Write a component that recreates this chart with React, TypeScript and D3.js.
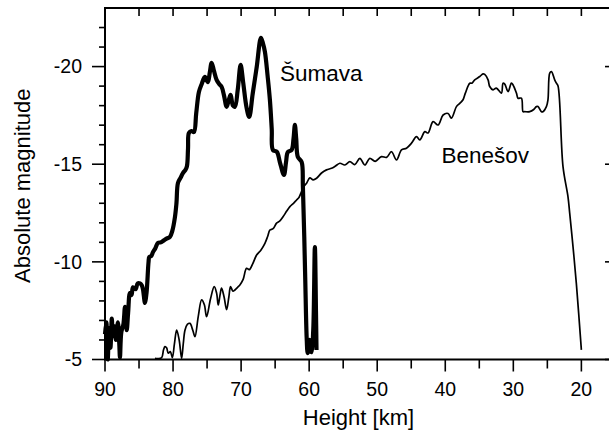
import * as React from 'react';
import * as d3 from 'd3';

const WIDTH = 609;
const HEIGHT = 430;

// Šumava fireball light curve (height km, absolute magnitude)
const sumavaHeight = [
  90.0, 89.8, 89.6, 89.4, 89.2, 89.0, 88.85, 88.6, 88.4, 88.1, 87.9, 87.8, 87.6, 87.3,
  87.06, 86.9, 86.8, 86.6, 86.33, 86.1, 85.89, 85.5, 85.2, 84.86, 84.6, 84.42, 84.2,
  84.13, 83.9, 83.6, 83.49, 83.2, 82.95, 82.6, 82.22, 81.8, 81.34, 80.9, 80.46, 80.1,
  79.72, 79.5, 79.28, 78.9, 78.55, 78.2, 77.96, 77.8, 77.67, 77.3, 76.93, 76.6, 76.2,
  75.8, 75.32, 74.88, 74.6, 74.33, 74.0, 73.6, 73.2, 72.86, 72.5, 72.13, 71.8, 71.54,
  71.2, 70.91, 70.5, 70.07, 69.7, 69.2, 68.81, 68.3, 67.7, 67.09, 66.8, 66.5, 66.1,
  65.77, 65.5, 65.33, 64.74, 64.3, 63.71, 63.4, 63.13, 62.58, 62.3, 62.1, 61.9, 61.66,
  61.11, 60.92, 60.6, 60.37, 60.23, 60.05, 59.9, 59.75, 59.65, 59.4, 59.16, 59.0, 58.92,
];
const sumavaMag = [
  -6.3, -6.9, -5.0, -6.6, -5.6, -7.1, -6.2, -6.7, -6.0, -6.9, -5.8, -5.1, -6.4, -6.8,
  -7.7, -7.0, -6.5, -7.4, -8.4, -8.3, -8.7, -8.6, -8.9, -8.9, -8.8, -8.6, -8.0,
  -7.9, -8.4, -10.0, -10.25, -10.3, -10.5, -10.7, -10.97, -11.0, -11.1, -11.2, -11.28, -11.6,
  -12.3, -13.0, -14.04, -14.3, -14.55, -14.7, -14.9, -15.8, -16.6, -16.7, -16.65, -17.6, -18.7,
  -19.1, -19.47, -19.2, -19.7, -20.19, -19.8, -19.32, -19.1, -18.96, -18.5, -17.94, -18.3, -18.55,
  -18.0, -17.94, -18.8, -20.09, -19.2, -17.9, -17.42, -18.6, -20.0, -21.47, -21.2, -20.75, -19.5,
  -18.3, -16.8, -15.73, -15.63, -15.1, -14.45, -15.1, -15.63, -15.73, -16.3, -17.01, -16.3, -15.37,
  -15.12, -13.84, -9.5, -6.15, -5.33, -5.9, -6.0, -5.4, -5.38, -6.5, -10.76, -7.5, -5.49,
];

// Benešov fireball light curve
const benesovHeight = [
  82.66, 82.2, 81.67, 81.4, 81.19, 80.95, 80.7, 80.4, 80.1, 79.8, 79.47, 79.1, 78.74,
  78.5, 78.25, 77.9, 77.52, 77.1, 76.78, 76.3, 75.8, 75.4, 75.07, 74.5, 73.95, 73.6,
  73.36, 73.1, 72.87, 72.5, 72.13, 71.8, 71.55, 71.2, 70.91, 70.5, 70.18, 69.7, 69.2,
  68.8, 68.3, 67.72, 67.1, 66.5, 66.1, 65.77, 65.3, 64.79, 64.3, 63.82, 63.3, 62.83,
  62.3, 61.85, 61.5, 61.12, 60.7, 60.38, 59.9, 59.41, 58.91, 58.18, 57.45, 56.71, 56.23,
  55.49, 54.76, 54.02, 53.3, 52.55, 51.82, 51.09, 50.3, 49.37, 48.63, 47.9, 47.17, 46.43,
  45.7, 44.96, 44.23, 43.74, 43.0, 42.53, 41.79, 41.06, 40.32, 39.59, 39.1, 38.36, 37.87,
  37.39, 37.05, 36.4, 36.08, 35.67, 34.93, 34.45, 34.2, 33.71, 33.47, 32.98, 32.5, 31.75,
  31.51, 31.26, 30.77, 30.28, 30.04, 29.54, 29.31, 28.81, 28.57, 28.33, 27.59, 27.0, 26.61,
  26.37, 25.87, 25.64, 25.14, 24.91, 24.65, 24.4, 23.92, 23.67, 23.43, 22.7, 21.97, 21.72,
  21.23, 20.74, 20.0,
];
const benesovMag = [
  -5.06, -5.05, -5.1, -5.5, -5.66, -5.6, -5.32, -5.4, -5.1, -5.8, -6.5, -6.0, -5.06,
  -5.8, -6.5, -6.8, -6.85, -6.5, -6.17, -7.2, -8.05, -7.8, -7.19, -8.1, -8.73, -8.4,
  -7.79, -8.3, -8.65, -8.2, -7.55, -8.2, -8.73, -8.5, -8.56, -8.7, -8.82, -9.1, -9.67,
  -9.6, -9.9, -10.35, -10.6, -10.95, -11.3, -11.63, -11.7, -11.98, -12.1, -12.32, -12.6, -12.83,
  -13.0, -13.17, -13.3, -13.6, -13.9, -14.03, -14.3, -14.2, -14.28, -14.55, -14.71, -14.79, -14.88,
  -15.05, -14.96, -15.13, -14.98, -15.3, -14.96, -15.3, -15.15, -15.39, -15.35, -15.64, -15.22, -15.73,
  -15.82, -16.08, -16.41, -16.25, -16.67, -16.6, -17.18, -17.01, -17.52, -17.6, -17.36, -17.95, -18.12,
  -18.3, -18.64, -19.15, -19.15, -19.32, -19.49, -19.63, -19.6, -19.32, -18.98, -18.81, -18.9, -18.64,
  -19.15, -19.1, -18.72, -19.15, -19.06, -18.64, -18.38, -18.38, -17.69, -17.69, -17.69, -17.8, -17.95,
  -17.95, -17.69, -17.69, -17.95, -18.3, -19.66, -19.74, -19.32, -19.15, -19.0, -14.88, -13.34, -12.51,
  -10.78, -8.9, -5.49,
];

const xMajor = [90, 80, 70, 60, 50, 40, 30, 20];
const xMinor = [85, 75, 65, 55, 45, 35, 25];
const yMajor = [-5, -10, -15, -20];
const yMinor = d3.range(-6, -23, -1).filter(v => v % 5 !== 0);

const FONT = '"Liberation Sans", Arial, Helvetica, sans-serif';

const left = 105;
const right = 612;
const top = 8;
const bottom = 359.5;

const x = d3.scaleLinear().domain([90, 15.5]).range([left, right]);
const y = d3.scaleLinear().domain([-5, -23]).range([bottom, top]);

const line = d3
  .line<[number, number]>()
  .x(d => x(d[0]))
  .y(d => y(d[1]))
  .curve(d3.curveCatmullRom.alpha(0.5));

const zip = (a: number[], b: number[]) => a.map((v, i) => [v, b[i]] as [number, number]);

export default function App() {
  return (
    <svg
      width={WIDTH}
      height={HEIGHT}
      style={{ position: 'absolute', left: 0, top: 0, background: '#fff' }}
      fontFamily={FONT}
    >
      {/* frame */}
      <path
        d={`M${left},${bottom}V${top}H${right}V${bottom}Z`}
        fill="none"
        stroke="#000"
        strokeWidth={2}
      />

      {/* bottom axis */}
      {xMajor.map(v => (
        <g key={'xb' + v}>
          <line x1={x(v)} x2={x(v)} y1={bottom} y2={bottom + 12} stroke="#000" strokeWidth={1.6} />
          <text x={x(v)} y={395.5} textAnchor="middle" fontSize={19.5}>
            {v}
          </text>
        </g>
      ))}
      {xMinor.map(v => (
        <line key={'xm' + v} x1={x(v)} x2={x(v)} y1={bottom} y2={bottom + 9} stroke="#000" strokeWidth={1.6} />
      ))}
      {/* top axis ticks */}
      {[...xMajor, ...xMinor].map(v => (
        <line key={'xt' + v} x1={x(v)} x2={x(v)} y1={top} y2={top + 8} stroke="#000" strokeWidth={1.6} />
      ))}

      {/* left axis */}
      {yMajor.map(v => (
        <g key={'yl' + v}>
          <line x1={left - 13} x2={left} y1={y(v)} y2={y(v)} stroke="#000" strokeWidth={1.6} />
          <text x={82} y={y(v)} dy="0.35em" textAnchor="end" fontSize={19.5}>
            {String(v)}
          </text>
          <line x1={right - 7} x2={right} y1={y(v)} y2={y(v)} stroke="#000" strokeWidth={1.6} />
        </g>
      ))}
      {yMinor.map(v => (
        <line key={'ym' + v} x1={left - 6} x2={left} y1={y(v)} y2={y(v)} stroke="#000" strokeWidth={1.6} />
      ))}

      {/* curves */}
      <path
        d={line(zip(benesovHeight, benesovMag)) ?? ''}
        fill="none"
        stroke="#000"
        strokeWidth={1.7}
        strokeLinejoin="round"
      />
      <path
        d={line(zip(sumavaHeight, sumavaMag)) ?? ''}
        fill="none"
        stroke="#000"
        strokeWidth={4.2}
        strokeLinejoin="round"
      />

      {/* labels */}
      <text x={280} y={81} fontSize={22.5}>
        Šumava
      </text>
      <text x={441.5} y={162.5} fontSize={22.5}>
        Benešov
      </text>

      {/* axis titles */}
      <text x={(left + right) / 2} y={425} textAnchor="middle" fontSize={22}>
        Height [km]
      </text>
      <text
        transform={`translate(30,${(top + bottom) / 2 + 2}) rotate(-90)`}
        textAnchor="middle"
        fontSize={22}
      >
        Absolute magnitude
      </text>
    </svg>
  );
}
